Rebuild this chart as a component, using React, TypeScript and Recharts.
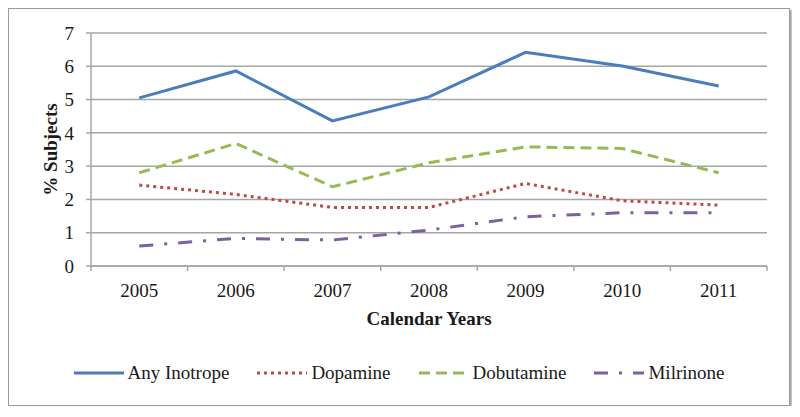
import { LineChart, Line, XAxis, YAxis, CartesianGrid, Legend } from 'recharts'

const years = ['2005', '2006', '2007', '2008', '2009', '2010', '2011']
const anyInotrope = [5.05, 5.86, 4.36, 5.08, 6.42, 6.01, 5.41]
const dopamine = [2.43, 2.15, 1.76, 1.76, 2.48, 1.96, 1.83]
const dobutamine = [2.8, 3.68, 2.38, 3.1, 3.58, 3.53, 2.8]
const milrinone = [0.6, 0.83, 0.78, 1.08, 1.48, 1.6, 1.6]
const yTicks = [0, 1, 2, 3, 4, 5, 6, 7]

const W = 780
const H = 396
const margin = { top: 24, right: 22, left: 0, bottom: 17 }
const yAxisWidth = 82
const half = (W - margin.right - margin.left - yAxisWidth) / years.length / 2

const FONT = '"Liberation Serif", "DejaVu Serif", serif'
const GRID = '#a6a6a6'

const series = [
  { key: 'Any Inotrope', values: anyInotrope, color: '#4a7ebb', dash: undefined as string | undefined, cap: 'butt' },
  { key: 'Dopamine', values: dopamine, color: '#be4b48', dash: '3 4', cap: 'butt' },
  { key: 'Dobutamine', values: dobutamine, color: '#98b954', dash: '11 6', cap: 'butt' },
  { key: 'Milrinone', values: milrinone, color: '#7d60a0', dash: '14 11 3 11', cap: 'butt' },
]

const data = years.map((y, i) => {
  const row: Record<string, string | number> = { year: y }
  series.forEach((s) => (row[s.key] = s.values[i]))
  return row
})

const TICK_GAP = 18

function YearTick(props: any) {
  const { x, y, payload, index } = props
  const axisY = y - TICK_GAP
  return (
    <g>
      <line x1={x - half} x2={x - half} y1={axisY} y2={axisY + 5} stroke={GRID} strokeWidth={1.5} />
      {index === years.length - 1 && (
        <line x1={x + half} x2={x + half} y1={axisY} y2={axisY + 5} stroke={GRID} strokeWidth={1.5} />
      )}
      <text x={x} y={y} dy="0.71em" textAnchor="middle" fontSize={19} fill="#1a1a1a" fontFamily={FONT}>
        {payload.value}
      </text>
    </g>
  )
}

function LegendContent() {
  return (
    <div
      style={{
        display: 'flex',
        justifyContent: 'center',
        alignItems: 'center',
        height: 30,
        gap: 28,
        fontFamily: FONT,
        fontSize: 19,
        color: '#1a1a1a',
      }}
    >
      {series.map((s) => (
        <div key={s.key} style={{ display: 'flex', alignItems: 'center', gap: 4 }}>
          <svg width={50} height={10}>
            <line x1={0} x2={50} y1={5} y2={5} stroke={s.color} strokeWidth={3} strokeDasharray={s.dash} />
          </svg>
          <span>{s.key}</span>
        </div>
      ))}
    </div>
  )
}

export default function App() {
  return (
    <div
      style={{
        width: W,
        height: H,
        border: '1px solid #9a9a9a',
        boxShadow: '2px 2px 2px rgba(0,0,0,0.35)',
        background: '#fff',
        fontFamily: FONT,
      }}
    >
      <LineChart width={W} height={H} data={data} margin={margin}>
        <CartesianGrid vertical={false} stroke={GRID} strokeWidth={1.5} />
        <XAxis
          dataKey="year"
          height={92}
          padding={{ left: half, right: half }}
          axisLine={{ stroke: GRID, strokeWidth: 1.5 }}
          tickLine={false}
          tickSize={0}
          tickMargin={TICK_GAP}
          tick={<YearTick />}
          interval={0}
          label={{
            value: 'Calendar Years',
            position: 'insideTop',
            offset: 46,
            fontSize: 19,
            fontWeight: 'bold',
            fill: '#1a1a1a',
            fontFamily: FONT,
          }}
        />
        <YAxis
          width={yAxisWidth}
          domain={[0, 7]}
          ticks={yTicks}
          interval={0}
          axisLine={{ stroke: GRID, strokeWidth: 1.5 }}
          tickLine={{ stroke: GRID, strokeWidth: 1.5 }}
          tickSize={5}
          tickMargin={12}
          tick={{ fontSize: 19, fill: '#1a1a1a', fontFamily: FONT }}
          label={{
            value: '% Subjects',
            angle: -90,
            position: 'center',
            fontSize: 19,
            fontWeight: 'bold',
            fill: '#1a1a1a',
            fontFamily: FONT,
          }}
        />
        <Legend
          verticalAlign="bottom"
          content={<LegendContent />}
          wrapperStyle={{ left: 0, width: W }}
        />
        {series.map((s) => (
          <Line
            key={s.key}
            dataKey={s.key}
            type="linear"
            stroke={s.color}
            strokeWidth={3}
            strokeDasharray={s.dash}
            dot={false}
            activeDot={false}
            isAnimationActive={false}
          />
        ))}
      </LineChart>
    </div>
  )
}
